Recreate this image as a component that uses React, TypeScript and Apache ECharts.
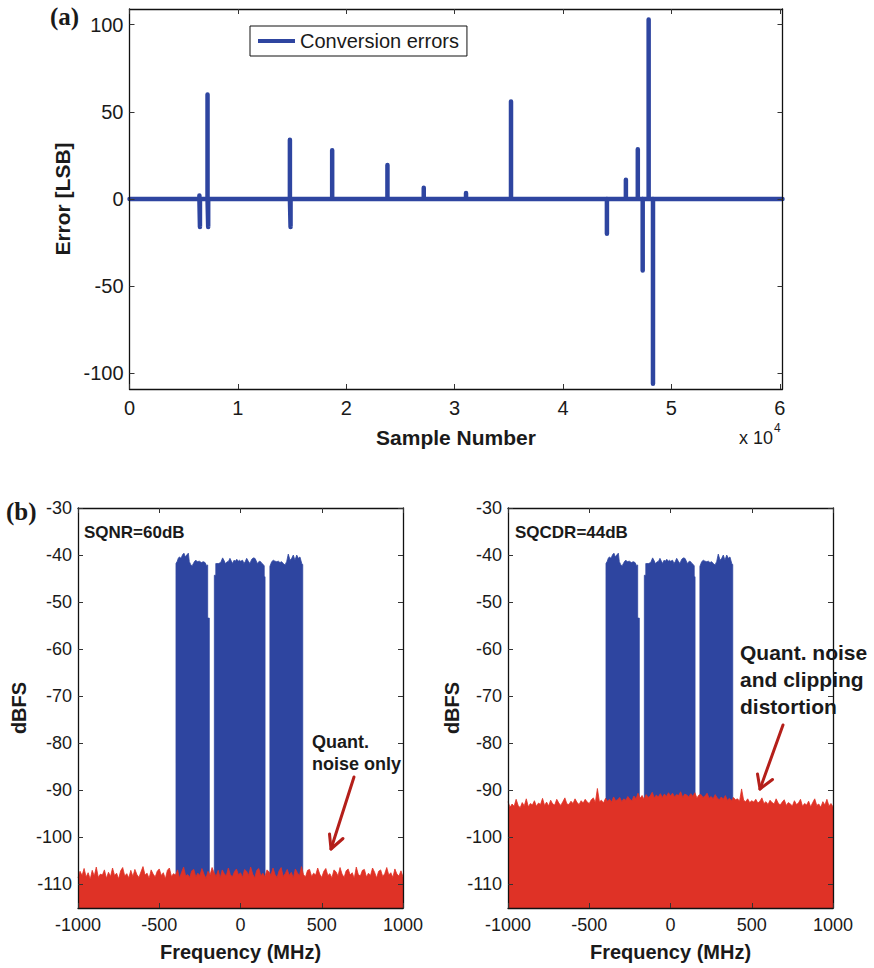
import React, { useEffect, useRef } from "react";
import * as echarts from "echarts";

// ---------- (a) conversion errors ----------
const errorSpikeSamples = [6450, 6500, 7200, 7260, 14800, 14860, 18700, 23800, 27150, 31050, 35200, 44050, 45800, 46900, 47350, 47900, 48300];
const errorSpikeValues = [2, -16, 60, -16, 34, -16, 28, 19.5, 6.5, 3.5, 56, -20, 11, 28.5, -41, 103, -106];
const sampleAxisMin = 0;
const sampleAxisMax = 60250;
const sampleTicks = [0, 10000, 20000, 30000, 40000, 50000, 60000];
const errorAxisMin = -109;
const errorAxisMax = 109;
const errorTicks = [-100, -50, 0, 50, 100];

// ---------- (b) spectra ----------
const dbAxisMin = -115;
const dbAxisMax = -30;
const dbTicks = [-110, -100, -90, -80, -70, -60, -50, -40, -30];
const freqMin = -1000;
const freqMax = 1000;
const freqInterval = 500;

// upper envelope of the three signal bands [MHz, dBFS]
const band1Top = [[-397, -115], [-397, -41.8], [-389, -41.3], [-383, -40.7], [-376, -40.4], [-366, -40.7], [-356, -39.9], [-348, -39.6], [-340, -40.4], [-331, -40.0], [-321, -39.6], [-315, -41.4], [-307, -42.0], [-298, -42.3], [-290, -41.8], [-282, -41.3], [-274, -41.1], [-266, -41.4], [-253, -41.3], [-241, -41.6], [-229, -41.4], [-218, -41.6], [-208, -42.3], [-202, -42.1], [-202, -53.4], [-192, -53.4], [-192, -115]];
const band2Top = [[-161, -115], [-161, -44.3], [-152, -44.3], [-152, -41.8], [-146, -41.8], [-136, -41.8], [-122, -41.6], [-110, -40.6], [-102, -41.1], [-93, -41.8], [-81, -41.4], [-73, -41.3], [-65, -40.7], [-56, -41.3], [-48, -41.8], [-40, -41.1], [-32, -41.3], [-23, -40.9], [-13, -41.3], [-7, -41.1], [1, -41.3], [13, -41.1], [21, -41.8], [29, -41.4], [38, -40.7], [48, -41.3], [58, -41.8], [69, -40.9], [79, -40.6], [89, -40.7], [95, -41.1], [103, -41.8], [116, -41.3], [124, -41.4], [132, -41.8], [140, -42.0], [146, -42.3], [146, -44.6], [151, -44.6], [151, -115]];
const band3Top = [[181, -115], [181, -42.4], [192, -41.4], [202, -41.1], [212, -41.3], [223, -41.4], [233, -41.3], [243, -41.6], [253, -41.4], [263, -41.8], [274, -42.1], [284, -41.4], [294, -39.8], [305, -41.1], [315, -40.7], [325, -40.0], [335, -41.1], [346, -40.0], [356, -40.7], [366, -40.4], [377, -41.8], [383, -42.0], [383, -115]];

// noise floor upper envelope, one value per 12.5 MHz bin from -1000 MHz
const noiseBinStart = -1000;
const noiseBinStep = 12.5;
const noiseFloorQuant = [
  -108.6, -107.2, -108.1, -106.6, -108.4, -107.5, -108.9, -107.0, -108.2, -106.3, -108.5, -107.8, -108.0, -106.9, -108.7, -107.4, -108.3, -106.5, -108.1, -107.6,
  -108.8, -107.1, -106.4, -108.2, -107.7, -108.6, -107.0, -108.3, -106.8, -107.9, -108.5, -107.3, -106.2, -108.0, -107.6, -108.7, -106.9, -107.8, -108.4, -107.2,
  -106.7, -108.1, -107.5, -108.8, -107.0, -106.5, -108.3, -107.7, -108.0, -106.9, -108.6, -107.4, -106.3, -108.2, -107.9, -108.5, -107.1, -106.8, -108.4, -107.6,
  -108.1, -106.6, -107.8, -108.7, -107.2, -108.0, -106.4, -107.5, -108.3, -107.0, -108.6, -106.9, -107.7, -108.2, -106.5, -107.9, -108.4, -107.3, -106.7, -108.0,
  -107.5, -108.5, -106.8, -107.2, -108.1, -106.3, -107.8, -108.6, -107.0, -106.6, -108.2, -107.6, -108.4, -106.9, -107.3, -108.0, -106.5, -107.9, -108.5, -107.1,
  -106.4, -108.3, -107.7, -106.8, -108.1, -107.4, -108.6, -106.7, -107.5, -108.2, -106.2, -107.9, -108.4, -107.0, -106.8, -108.3, -107.6, -108.0, -106.5, -107.8,
  -108.5, -107.2, -106.6, -108.1, -107.7, -108.6, -106.9, -107.3, -108.2, -106.4, -107.8, -108.5, -107.1, -106.7, -108.0, -107.5, -108.7, -106.3, -107.9, -108.2,
  -107.0, -106.8, -108.4, -107.6, -108.1, -106.5, -107.4, -108.6, -107.2, -106.9, -108.3, -107.7, -106.4, -108.0, -107.5, -108.5, -106.7, -107.8, -108.2, -107.1,
  -108.4,
];
const noiseFloorClip = [
  -92.4, -93.6, -92.9, -93.4, -91.9, -93.2, -93.7, -92.6, -93.3, -91.8, -93.5, -92.8, -93.1, -92.2, -93.4, -92.7, -93.0, -91.7, -93.2, -92.5,
  -93.3, -92.1, -92.9, -93.1, -91.9, -92.7, -93.2, -92.4, -91.6, -92.9, -93.0, -92.3, -92.8, -91.8, -92.6, -93.0, -92.2, -92.7, -91.9, -92.5,
  -92.8, -92.0, -91.6, -92.6, -89.6, -92.4, -92.1, -92.7, -91.7, -92.3, -91.9, -92.5, -91.4, -92.2, -92.0, -91.5, -92.4, -91.8, -92.1, -91.3,
  -91.9, -92.2, -91.2, -91.8, -90.6, -91.7, -91.1, -91.9, -90.9, -91.5, -91.2, -90.4, -91.6, -91.0, -91.4, -90.7, -91.5, -90.8, -91.3, -90.5,
  -91.2, -90.6, -91.4, -90.9, -91.1, -90.3, -91.5, -90.8, -91.0, -91.4, -90.7, -91.3, -90.5, -91.6, -91.0, -90.9, -91.5, -91.2, -90.6, -91.7,
  -91.3, -91.8, -90.9, -91.6, -92.0, -91.4, -91.9, -91.1, -92.1, -91.7, -92.2, -91.5, -92.0, -91.8, -92.3, -89.7, -92.1, -92.4, -91.8, -92.6,
  -92.2, -92.5, -91.9, -92.7, -92.3, -91.6, -92.8, -92.4, -93.0, -92.1, -92.6, -92.9, -91.8, -92.7, -93.1, -92.5, -92.0, -93.2, -92.6, -92.9,
  -93.3, -92.2, -93.0, -92.7, -91.9, -93.4, -92.8, -93.1, -92.3, -93.5, -92.6, -91.8, -93.2, -92.9, -93.6, -92.4, -93.1, -91.9, -93.3, -92.8,
  -93.5,
];

const BLUE = "#2E45A0";
const RED = "#DF3226";
const ARROW = "#B41F1A";
const INK = "#1a1a1a";
const SANS = "Liberation Sans";
const SERIF = "Liberation Serif";

function buildErrorData(): number[][] {
  const d: number[][] = [[sampleAxisMin, 0]];
  errorSpikeSamples.forEach((s, i) => {
    d.push([s - 1, 0], [s, errorSpikeValues[i]], [s + 1, 0]);
  });
  d.push([sampleAxisMax, 0]);
  return d;
}

function buildNoiseData(vals: number[]): number[][] {
  return vals.map((v, i) => [noiseBinStart + i * noiseBinStep, v]);
}

const bandsTop = [...band1Top, ...band2Top, ...band3Top];

function frameAxes(gridIndex: number, base: any, isX: boolean, fontSize: number, margin: number, name: string, nameGap: number, nameSize: number) {
  const tick = { show: true, inside: true, length: 5, lineStyle: { color: "#333", width: 1 } };
  const line = { show: true, onZero: false, lineStyle: { color: "#111", width: 1.3 } };
  const main: any = {
    gridIndex,
    type: "value",
    position: isX ? "bottom" : "left",
    min: base.min,
    max: base.max,
    z: 6,
    axisLine: line,
    axisTick: { ...tick },
    axisLabel: {
      show: true,
      color: INK,
      fontSize,
      fontFamily: SANS,
      margin,
      formatter: base.formatter || ((v: number) => String(v)),
    },
    splitLine: { show: false },
    name,
    nameLocation: "middle",
    nameGap,
    nameTextStyle: { color: INK, fontSize: nameSize, fontWeight: "bold", fontFamily: SANS },
  };
  const opp: any = {
    gridIndex,
    type: "value",
    position: isX ? "top" : "right",
    min: base.min,
    max: base.max,
    z: 6,
    axisLine: line,
    axisTick: { ...tick },
    axisLabel: { show: false },
    splitLine: { show: false },
  };
  if (base.interval) {
    main.interval = base.interval;
    opp.interval = base.interval;
  }
  if (base.customTicks) {
    main.axisTick.customValues = base.customTicks;
    main.axisLabel.customValues = base.customTicks;
    opp.axisTick.customValues = base.customTicks;
    opp.axisLabel.customValues = base.customTicks;
  }
  return [main, opp];
}

export default function App() {
  const ref = useRef<HTMLDivElement>(null);

  useEffect(() => {
    if (!ref.current) return;
    const chart = echarts.init(ref.current, null, { renderer: "svg" });

    const [xa0, xa1] = frameAxes(0, { min: sampleAxisMin, max: sampleAxisMax, customTicks: sampleTicks, formatter: (v: number) => String(v / 10000) }, true, 20, 9, "Sample Number", 38, 21);
    const [ya0, ya1] = frameAxes(0, { min: errorAxisMin, max: errorAxisMax, customTicks: errorTicks }, false, 20, 6, "Error [LSB]", 45, 21);
    const [xb0, xb1] = frameAxes(1, { min: freqMin, max: freqMax, interval: freqInterval }, true, 18, 8, "Frequency (MHz)", 34, 20);
    const [yb0, yb1] = frameAxes(1, { min: dbAxisMin, max: dbAxisMax, customTicks: dbTicks }, false, 18, 6, "dBFS", 49, 20);
    const [xc0, xc1] = frameAxes(2, { min: freqMin, max: freqMax, interval: freqInterval }, true, 18, 8, "Frequency (MHz)", 34, 20);
    const [yc0, yc1] = frameAxes(2, { min: dbAxisMin, max: dbAxisMax, customTicks: dbTicks }, false, 18, 6, "dBFS", 45, 20);

    const areaSeries = (name: string, data: number[][], color: string, xi: number, yi: number, z: number) => ({
      name,
      type: "line",
      xAxisIndex: xi,
      yAxisIndex: yi,
      z,
      data,
      showSymbol: false,
      symbol: "none",
      lineStyle: { color, width: 0.8 },
      itemStyle: { color },
      areaStyle: { color, opacity: 1, origin: "start" },
      silent: true,
    });

    const textEl = (text: string, x: number, y: number, size: number, family = SANS) => ({
      type: "text",
      x,
      y,
      z: 20,
      style: { text, fill: INK, fontSize: size, fontWeight: "bold", fontFamily: family, verticalAlign: "middle" },
    });
    const arrowEl = (x1: number, y1: number, x2: number, y2: number, h1: number[], h2: number[]) => [
      { type: "line", z: 20, shape: { x1, y1, x2, y2 }, style: { stroke: ARROW, lineWidth: 3, lineCap: "round" } },
      { type: "polyline", z: 20, shape: { points: [h1, [x2, y2], h2] }, style: { stroke: ARROW, lineWidth: 3, fill: null, lineCap: "round", lineJoin: "round" } },
    ];

    chart.setOption({
      animation: false,
      backgroundColor: "#ffffff",
      grid: [
        { left: 129.5, top: 9, width: 653, height: 380 },
        { left: 78, top: 508, width: 325, height: 400 },
        { left: 508, top: 508, width: 325, height: 400 },
      ],
      xAxis: [xa0, xa1, xb0, xb1, xc0, xc1],
      yAxis: [ya0, ya1, yb0, yb1, yc0, yc1],
      legend: {
        data: [{ name: "Conversion errors", icon: "rect" }],
        left: 250,
        top: 26,
        orient: "horizontal",
        itemWidth: 37,
        itemHeight: 4,
        padding: [5, 8, 5, 8],
        borderColor: "#111",
        borderWidth: 1,
        backgroundColor: "#fff",
        textStyle: { color: INK, fontSize: 20, fontFamily: SANS },
        selectedMode: false,
      },
      series: [
        {
          name: "Conversion errors",
          type: "line",
          xAxisIndex: 0,
          yAxisIndex: 0,
          data: buildErrorData(),
          showSymbol: false,
          symbol: "none",
          lineStyle: { color: BLUE, width: 4.5, cap: "round", join: "round" },
          itemStyle: { color: BLUE },
          silent: true,
        },
        areaSeries("Signal (quant.)", bandsTop, BLUE, 2, 2, 2),
        areaSeries("Noise (quant.)", buildNoiseData(noiseFloorQuant), RED, 2, 2, 3),
        areaSeries("Signal (clip)", bandsTop, BLUE, 4, 4, 2),
        areaSeries("Noise (clip)", buildNoiseData(noiseFloorClip), RED, 4, 4, 3),
      ],
      graphic: [
        textEl("(a)", 50, 16, 25, SERIF),
        textEl("(b)", 6, 511, 25, SERIF),
        { type: "text", x: 739, y: 438, z: 20, style: { text: "x 10", fill: INK, fontSize: 18, fontFamily: SANS, verticalAlign: "middle" } },
        { type: "text", x: 774, y: 428, z: 20, style: { text: "4", fill: INK, fontSize: 12, fontFamily: SANS, verticalAlign: "middle" } },
        textEl("SQNR=60dB", 84, 532, 17),
        textEl("SQCDR=44dB", 515, 532, 17),
        textEl("Quant.", 312, 742, 18),
        textEl("noise only", 312, 764, 18),
        textEl("Quant. noise", 740, 652, 21),
        textEl("and clipping", 740, 679, 21),
        textEl("distortion", 740, 706, 21),
        ...arrowEl(354, 777, 331, 849, [343, 838.5], [329.5, 834]),
        ...arrowEl(783, 725, 760, 789, [772.5, 779.5], [757.5, 774]),
      ],
    });

    return () => chart.dispose();
  }, []);

  return (
    <div
      ref={ref}
      style={{ position: "fixed", left: 0, top: 0, width: 874, height: 968, background: "#fff" }}
    />
  );
}
